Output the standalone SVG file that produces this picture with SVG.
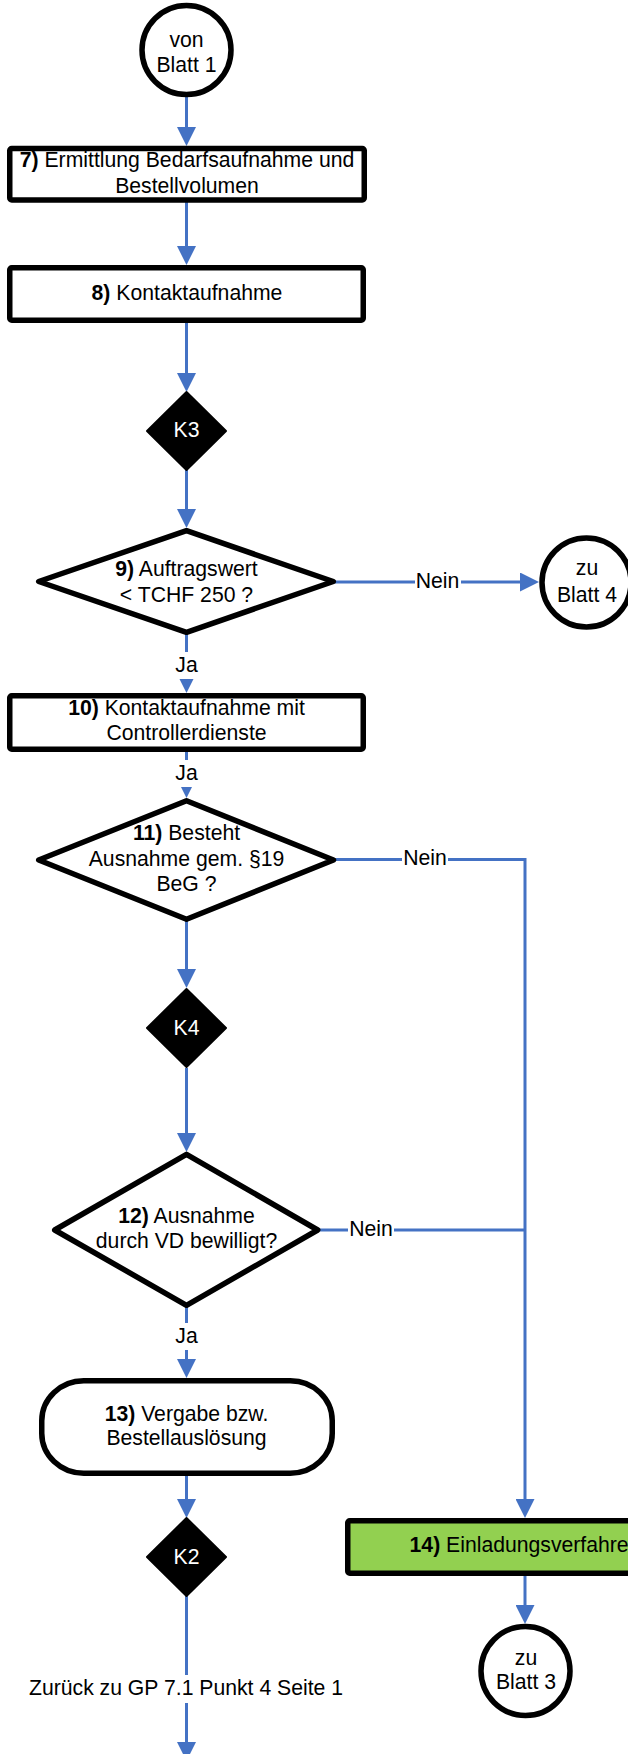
<svg xmlns="http://www.w3.org/2000/svg" width="628" height="1754" viewBox="0 0 628 1754">
<style>
.n{fill:#fff;stroke:#000;stroke-width:5.5;stroke-linejoin:round}
.g{fill:#92D050}
.k{fill:#000;stroke:#000;stroke-width:2;stroke-linejoin:round}
.t{font-family:"Liberation Sans",Arial,sans-serif;font-size:21.2px;fill:#000;text-anchor:middle}
.kt{fill:#fff}
.b{font-weight:bold}
.c{fill:none;stroke:#4472C4;stroke-width:3}
.bg{fill:#fff}
</style>
<defs>
<marker id="ah" viewBox="0 0 19 19" refX="15" refY="9.5" markerWidth="19" markerHeight="19" markerUnits="userSpaceOnUse" orient="auto"><path d="M0,0 L19,9.5 L0,19 z" fill="#4472C4"/></marker>
</defs>
<g id="connectors">
<path class="c" d="M186.5,97 V142" marker-end="url(#ah)"/>
<path class="c" d="M186.5,202 V261" marker-end="url(#ah)"/>
<path class="c" d="M186.5,323 V388" marker-end="url(#ah)"/>
<path class="c" d="M186.5,470 V524" marker-end="url(#ah)"/>
<path class="c" d="M186.5,633 V689" marker-end="url(#ah)"/>
<path class="c" d="M335,582 H535" marker-end="url(#ah)"/>
<path class="c" d="M186.5,751 V794" marker-end="url(#ah)"/>
<path class="c" d="M335,859.5 H525 V1514" marker-end="url(#ah)"/>
<path class="c" d="M186.5,920 V984" marker-end="url(#ah)"/>
<path class="c" d="M186.5,1068 V1148" marker-end="url(#ah)"/>
<path class="c" d="M319,1230 H525"/>
<path class="c" d="M186.5,1306 V1374" marker-end="url(#ah)"/>
<path class="c" d="M186.5,1476 V1514" marker-end="url(#ah)"/>
<path class="c" d="M186.5,1596 V1757" marker-end="url(#ah)"/>
<path class="c" d="M525,1576 V1620" marker-end="url(#ah)"/>
<g id="labels">
<rect class="bg" x="415" y="568" width="46" height="26"/>
<text class="t" x="437.5" y="588">Nein</text>
<rect class="bg" x="174" y="652" width="25" height="27"/>
<text class="t" x="186.5" y="671.7">Ja</text>
<rect class="bg" x="174" y="760" width="25" height="27"/>
<text class="t" x="186.5" y="780">Ja</text>
<rect class="bg" x="402" y="845" width="46" height="26"/>
<text class="t" x="425" y="865">Nein</text>
<rect class="bg" x="348" y="1216" width="46" height="26"/>
<text class="t" x="371" y="1236">Nein</text>
<rect class="bg" x="174" y="1323" width="25" height="27"/>
<text class="t" x="186.5" y="1342.7">Ja</text>
<rect class="bg" x="26" y="1675" width="320" height="28"/>
<text class="t" x="186" y="1695">Zurück zu GP 7.1 Punkt 4 Seite 1</text>
</g>
</g>
<g id="von-blatt-1">
<circle class="n" cx="186.5" cy="50" r="44.5"/>
<text class="t" x="186.5" y="46.7">von</text>
<text class="t" x="186.5" y="71.7">Blatt 1</text>
</g>
<g id="n7">
<rect class="n" x="9.75" y="148.5" width="354.5" height="51.5" rx="2"/>
<text class="t" x="187" y="166.7"><tspan class="b">7)</tspan> Ermittlung Bedarfsaufnahme und</text>
<text class="t" x="187" y="192.7">Bestellvolumen</text>
</g>
<g id="n8">
<rect class="n" x="9.75" y="267.75" width="353.5" height="52.5" rx="2"/>
<text class="t" x="187" y="300"><tspan class="b">8)</tspan> Kontaktaufnahme</text>
</g>
<g id="k3">
<polygon class="k" points="186.5,392 226,431 186.5,470 147,431"/>
<text class="t kt" x="186.5" y="437">K3</text>
</g>
<g id="n9">
<polygon class="n" points="186.5,530.7 333.3,581.5 186.5,632.3 38.7,581.5"/>
<text class="t" x="186.5" y="576"><tspan class="b">9)</tspan> Auftragswert</text>
<text class="t" x="186.5" y="601.7">&lt; TCHF 250 ?</text>
</g>
<g id="zu-blatt-4">
<circle class="n" cx="586.5" cy="582.5" r="44.5"/>
<text class="t" x="587" y="575">zu</text>
<text class="t" x="587" y="601.7">Blatt 4</text>
</g>
<g id="n10">
<rect class="n" x="9.75" y="695.75" width="353.5" height="53.5" rx="2"/>
<text class="t" x="186.5" y="715"><tspan class="b">10)</tspan> Kontaktaufnahme mit</text>
<text class="t" x="186.5" y="740">Controllerdienste</text>
</g>
<g id="n11">
<polygon class="n" points="186.5,800.7 333.5,860 186.5,919.3 38.7,860"/>
<text class="t" x="186.5" y="840"><tspan class="b">11)</tspan> Besteht</text>
<text class="t" x="186.5" y="866">Ausnahme gem. §19</text>
<text class="t" x="186.5" y="890.7">BeG ?</text>
</g>
<g id="k4">
<polygon class="k" points="186.5,989 226,1028 186.5,1067 147,1028"/>
<text class="t kt" x="186.5" y="1035">K4</text>
</g>
<g id="n12">
<polygon class="n" points="186.5,1154.4 317.7,1230 186.5,1305.3 54.7,1230"/>
<text class="t" x="186.5" y="1222.7"><tspan class="b">12)</tspan> Ausnahme</text>
<text class="t" x="186.5" y="1248.3">durch VD bewilligt?</text>
</g>
<g id="n13">
<rect class="n" x="41.75" y="1380.75" width="290.5" height="92.5" rx="42" ry="40"/>
<text class="t" x="186.5" y="1420.7"><tspan class="b">13)</tspan> Vergabe bzw.</text>
<text class="t" x="186.5" y="1445">Bestellauslösung</text>
</g>
<g id="k2">
<polygon class="k" points="186.5,1518 226,1557 186.5,1596 147,1557"/>
<text class="t kt" x="186.5" y="1564">K2</text>
</g>
<g id="n14">
<rect class="n g" x="347.75" y="1520.75" width="354.5" height="52.5" rx="2"/>
<text class="t" x="525" y="1551.7"><tspan class="b">14)</tspan> Einladungsverfahren</text>
</g>
<g id="zu-blatt-3">
<circle class="n" cx="525.5" cy="1671" r="44.5"/>
<text class="t" x="526" y="1665">zu</text>
<text class="t" x="526" y="1689.3">Blatt 3</text>
</g>
</svg>
